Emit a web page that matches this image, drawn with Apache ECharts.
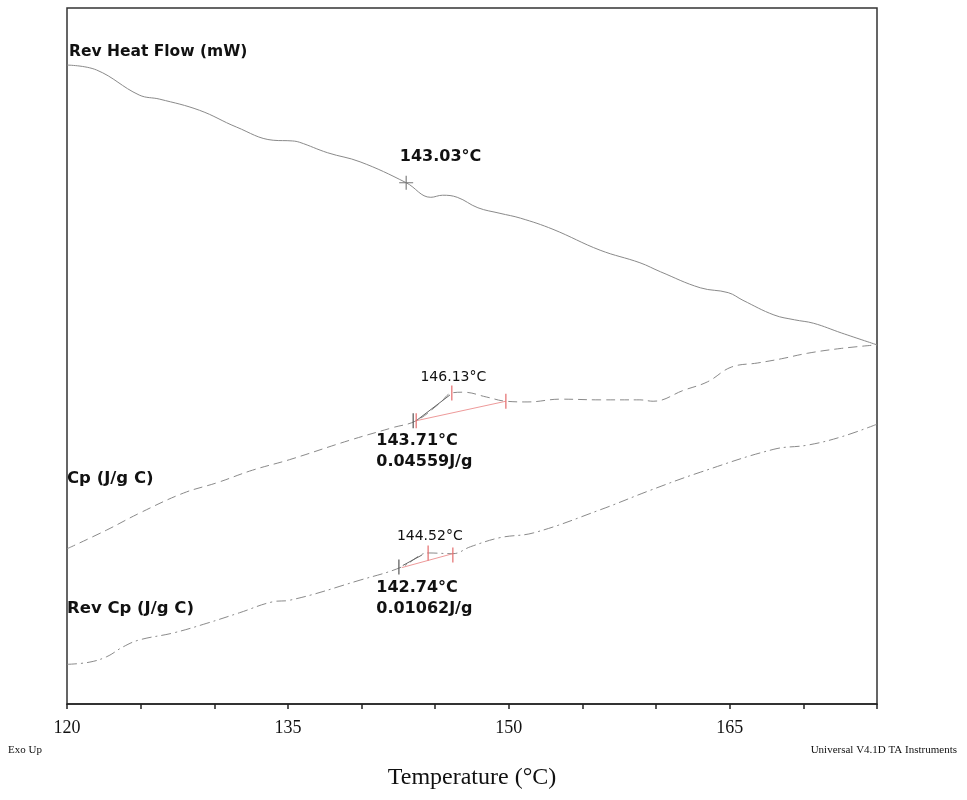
<!DOCTYPE html>
<html>
<head>
<meta charset="utf-8">
<script src="https://cdn.jsdelivr.net/npm/echarts@6/dist/echarts.min.js"></script>
<style>
    html, body { margin: 0; padding: 0; background: #fff; }
    #main { width: 967px; height: 800px; }
</style>
</head>
<body>
<div id="main"></div>
<script>
// 温度 (°C) / 纵轴是无刻度的相对值 (0-100)
var revHeatFlow = [
    [120, 91.8], [122.0, 91.1], [124.9, 87.5], [126.3, 86.9], [129.0, 85.3], [131.5, 82.9],
    [134.0, 81.0], [135.3, 80.9], [135.8, 80.7], [137.7, 79.2], [139.9, 77.9], [143.03, 74.9],
    [144.7, 72.8], [145.5, 73.1], [146.5, 72.8], [147.9, 71.3], [149.4, 70.5], [150.8, 69.8],
    [153.0, 68.2], [156.2, 65.2], [158.9, 63.4], [160.3, 62.1], [163.0, 59.8], [164.9, 59.1],
    [165.9, 58.0], [168.0, 55.9], [169.4, 55.2], [170.7, 54.7], [172.6, 53.3], [175, 51.6]
];
var cp = [
    [120, 22.3], [122.7, 25.0], [124.9, 27.4], [127.9, 30.3], [130.2, 31.8], [132.6, 33.6],
    [135.1, 35.1], [139.2, 37.9], [142.1, 39.7], [143.71, 40.7], [145.3, 43.2], [146.13, 44.7],
    [146.9, 44.8], [148.5, 44.1], [149.8, 43.5], [151.3, 43.4], [153.5, 43.8], [156.2, 43.7],
    [158.9, 43.7], [159.8, 43.5], [161.9, 45.1], [163.5, 46.3], [165.1, 48.4], [166.9, 49.0],
    [168.5, 49.6], [170.3, 50.4], [172.6, 51.1], [175, 51.6]
];
var revCp = [
    [120, 5.7], [121.5, 6.0], [122.7, 6.8], [123.8, 8.2], [124.9, 9.2], [127.2, 10.2],
    [129.5, 11.6], [131.7, 13.1], [134.0, 14.7], [135.1, 14.9], [139.9, 17.8], [142.74, 19.7],
    [144.0, 21.4], [144.52, 21.7], [146.2, 21.6], [147.4, 22.6], [149.4, 23.9], [151.7, 24.6],
    [156.2, 27.9], [159.6, 30.7], [163.0, 33.3], [168.0, 36.6], [170.3, 37.2], [172.6, 38.4],
    [175, 40.2]
];
var xLabels = [120, 135, 150, 165];

// 玻璃化转变分析线
var cpRedLine = [[143.71, 40.7], [149.8, 43.5]];
var cpGrayLine = [[143.71, 40.7], [146.0, 44.4]];
var revCpRedLine = [[142.74, 19.6], [146.2, 21.6]];
var revCpGrayLine = [[142.8, 19.9], [144.1, 21.4]];
var redTicks = [[143.71, 40.7], [146.13, 44.7], [149.8, 43.5], [144.52, 21.7], [146.2, 21.4]];
var grayTicks = [[143.71, 40.7], [142.74, 19.7]];
var crossPoints = [[143.03, 74.9]];

// 标注文字: [温度, 值, 文本, 粗体]
var notes = [
    [142.6, 78.6, '143.03°C', true],
    [144.0, 47.0, '146.13°C', false],
    [141.0, 36.3, '143.71°C\n0.04559J/g', true],
    [142.4, 24.1, '144.52°C', false],
    [141.0, 15.2, '142.74°C\n0.01062J/g', true]
];

var lineColor = '#8a8a8a';
var textFont = '"DejaVu Sans", Verdana, sans-serif';
var serifFont = '"Liberation Serif", "Times New Roman", serif';

const myChart = echarts.init(document.getElementById('main'));
let option;

option = {
    animation: false,
    backgroundColor: '#fff',
    grid: {
        left: 67,
        right: 90,
        top: 8,
        bottom: 96,
        show: true,
        borderColor: '#333',
        borderWidth: 1.5
    },
    xAxis: {
        type: 'value',
        min: 120,
        max: 175,
        interval: 5,
        name: 'Temperature (°C)',
        nameLocation: 'middle',
        nameGap: 62,
        nameTextStyle: { fontFamily: serifFont, fontSize: 24, color: '#111' },
        axisLine: { show: true, lineStyle: { color: '#222', width: 1.5 } },
        axisTick: { show: true, length: 5, lineStyle: { color: '#222', width: 1.5 } },
        axisLabel: {
            margin: 15,
            fontFamily: serifFont,
            fontSize: 18,
            color: '#111',
            formatter: function (v) {
                return xLabels.indexOf(v) >= 0 ? String(v) : '';
            }
        },
        splitLine: { show: false }
    },
    yAxis: {
        type: 'value',
        min: 0,
        max: 100,
        show: false,
        splitLine: { show: false }
    },
    series: [
        {
            name: 'Rev Heat Flow',
            type: 'line',
            smooth: 0.4,
            symbol: 'none',
            data: revHeatFlow,
            lineStyle: { color: lineColor, width: 1 }
        },
        {
            name: 'Cp',
            type: 'line',
            smooth: 0.4,
            symbol: 'none',
            data: cp,
            lineStyle: { color: lineColor, width: 1, type: [9, 5] }
        },
        {
            name: 'Rev Cp',
            type: 'line',
            smooth: 0.4,
            symbol: 'none',
            data: revCp,
            lineStyle: { color: lineColor, width: 1, type: [10, 4, 2, 4] }
        },
        { type: 'line', symbol: 'none', data: cpRedLine, lineStyle: { color: '#ee9a9a', width: 1 } },
        { type: 'line', symbol: 'none', data: cpGrayLine, lineStyle: { color: '#666', width: 1 } },
        { type: 'line', symbol: 'none', data: revCpRedLine, lineStyle: { color: '#ee9a9a', width: 1 } },
        { type: 'line', symbol: 'none', data: revCpGrayLine, lineStyle: { color: '#666', width: 1 } },
        {
            type: 'scatter',
            data: redTicks,
            symbol: 'rect',
            symbolSize: [1.2, 15],
            itemStyle: { color: '#e46c6c', opacity: 1 },
            z: 5
        },
        {
            type: 'scatter',
            data: grayTicks,
            symbol: 'rect',
            symbolSize: [1.2, 15],
            symbolOffset: [-3, 0],
            itemStyle: { color: '#555', opacity: 1 },
            z: 5
        },
        {
            type: 'scatter',
            data: crossPoints,
            symbol: 'path://M0,4.6H10V5.4H0Z M4.6,0H5.4V10H4.6Z',
            symbolSize: 14,
            itemStyle: { color: '#777', opacity: 1 },
            z: 5
        },
        {
            type: 'scatter',
            symbolSize: 0,
            itemStyle: { opacity: 1 },
            data: notes.map(function (n) {
                return {
                    value: [n[0], n[1]],
                    label: {
                        show: true,
                        position: 'inside',
                        align: 'left',
                        verticalAlign: 'middle',
                        formatter: n[2],
                        fontFamily: textFont,
                        fontSize: n[3] ? 16 : 14,
                        lineHeight: 21,
                        fontWeight: n[3] ? 'bold' : 'normal',
                        color: '#111'
                    }
                };
            }),
            z: 6
        }
    ],
    graphic: [
        { type: 'text', left: 69, top: 44, style: { text: 'Rev Heat Flow (mW)', font: 'bold 15.5px ' + textFont, fill: '#111' } },
        { type: 'text', left: 67, top: 470, style: { text: 'Cp (J/g C)', font: 'bold 16.5px ' + textFont, fill: '#111' } },
        { type: 'text', left: 67, top: 600, style: { text: 'Rev Cp (J/g C)', font: 'bold 16.5px ' + textFont, fill: '#111' } },
        { type: 'text', left: 8, top: 745, style: { text: 'Exo Up', font: '11px ' + serifFont, fill: '#111' } },
        { type: 'text', right: 10, top: 745, style: { text: 'Universal V4.1D TA Instruments', font: '11px ' + serifFont, fill: '#111' } }
    ]
};
option && myChart.setOption(option);
</script>
</body>
</html>
